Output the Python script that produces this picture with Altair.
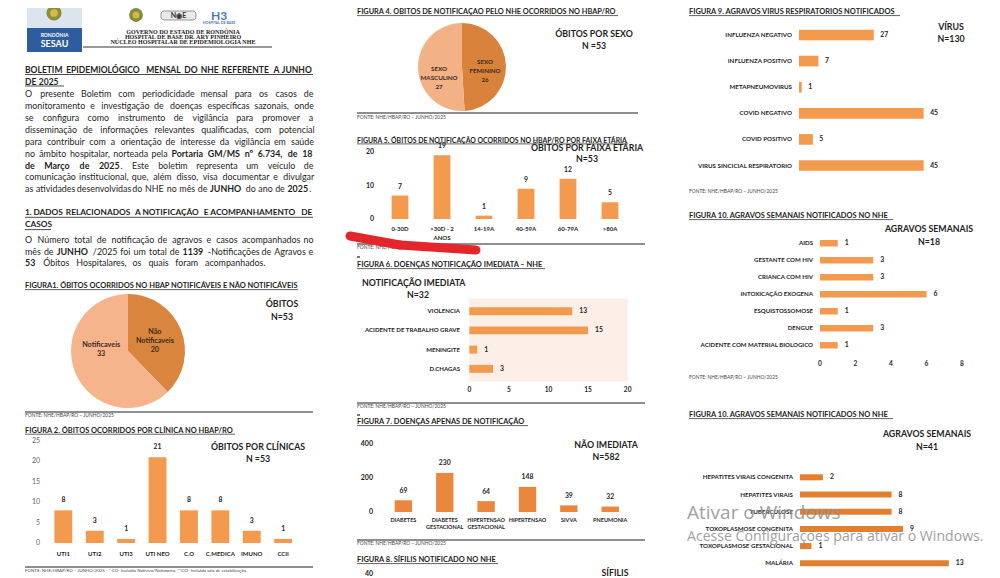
import altair as alt
import pandas as pd

# ---------------- data ----------------
fig1_cats = ["Não Notificaveis", "Notificaveis"]
fig1_labels = ["Não\nNotificaveis", "Notificaveis"]
fig1_vals = [20, 33]

fig2_cats = ["UTI1", "UTI2", "UTI3", "UTI NEO", "C.O", "C.MEDICA", "IMUNO", "CCII"]
fig2_vals = [8, 3, 1, 21, 8, 8, 3, 1]
fig2_ticks = [0, 5, 10, 15, 20, 25]

fig4_cats = ["SEXO FEMININO", "SEXO MASCULINO"]
fig4_labels = ["SEXO\nFEMININO", "SEXO\nMASCULINO"]
fig4_vals = [26, 27]

fig5_cats = ["0-30D", ">30D - 2\nANOS", "14-19A", "40-59A", "60-79A", ">80A"]
fig5_vals = [7, 19, 1, 9, 12, 5]
fig5_ticks = [0, 10, 20]

fig6_cats = ["VIOLENCIA", "ACIDENTE DE TRABALHO GRAVE", "MENINGITE", "D.CHAGAS"]
fig6_vals = [13, 15, 1, 3]
fig6_ticks = [0, 5, 10, 15, 20]

fig7_cats = ["DIABETES", "DIABETES\nGESTACIONAL", "HIPERTENSAO\nGESTACIONAL", "HIPERTENSAO", "SIVVA", "PNEUMONIA"]
fig7_vals = [69, 230, 64, 148, 39, 32]
fig7_ticks = [0, 200, 400]

fig9_cats = ["INFLUENZA NEGATIVO", "INFLUENZA POSITIVO", "METAPNEUMOVIRUS", "COVID NEGATIVO",
             "COVID POSITIVO", "VIRUS SINCICIAL RESPIRATORIO"]
fig9_vals = [27, 7, 1, 45, 5, 45]

fig10a_cats = ["AIDS", "GESTANTE COM HIV", "CRIANCA COM HIV", "INTOXICAÇÃO EXOGENA", "ESQUISTOSSOMOSE",
               "DENGUE", "ACIDENTE COM MATERIAL BIOLOGICO"]
fig10a_vals = [1, 3, 3, 6, 1, 3, 1]
fig10a_ticks = [0, 2, 4, 6, 8]

fig10b_cats = ["HEPATITES VIRAIS CONGENITA", "HEPATITES VIRAIS", "TUBERCULOSE", "TOXOPLASMOSE CONGENITA",
               "TOXOPLASMOSE GESTACIONAL", "MALÁRIA"]
fig10b_vals = [2, 8, 8, 9, 1, 13]

# body text ( *...* = bold )
para1 = ["O presente Boletim com periodicidade mensal para os casos de",
         "monitoramento e investigação de doenças específicas sazonais, onde",
         "se configura como instrumento de vigilância para promover a",
         "disseminação de informações relevantes qualificadas, com potencial",
         "para contribuir com a orientação de interesse da vigilância em saúde",
         "no âmbito hospitalar, norteada pela *Portaria GM/MS nº 6.734, de 18*",
         "*de Março de 2025*. Este boletim representa um veículo de",
         "comunicação institucional, que, além disso, visa documentar e divulgar",
         "as atividades desenvolvidas do NHE no mês de *JUNHO*  do ano de *2025*."]
para2 = ["O Número total de notificação de agravos e casos acompanhados no",
         "mês de *JUNHO* /2025 foi um total de *1139*  -Notificações de Agravos e",
         "*53* Óbitos Hospitalares, os quais foram acompanhados."]

# ---------------- helpers ----------------
W, H = 984, 570
FONT = "Lato"
INK = "#1e1e1e"
ORANGE = "#f39a4f"
BODY = 8.9


def px(v):
    return v - 8


one = pd.DataFrame({"k": [0]})

CW = {" ": .193, ",": .21, ".": .21, "/": .353, "-": .375, "–": .5, ":": .21, "º": .35, "(": .3, ")": .3}
for ch, w in zip("abcdefghijklmnopqrstuvwxyz",
                 [.473, .54, .446, .54, .5, .328, .484, .537, .228, .228, .495, .228, .807, .537, .538, .529,
                  .539, .365, .416, .35, .537, .492, .74, .48, .492, .434]):
    CW[ch] = w
for ch, w in zip("ABCDEFGHIJKLMNOPQRSTUVWXYZ",
                 [.68, .639, .694, .764, .58, .561, .739, .764, .288, .418, .66, .52, .924, .764, .814, .6,
                  .814, .643, .529, .584, .732, .68, 1.028, .645, .623, .606]):
    CW[ch] = w
for ch in "0123456789":
    CW[ch] = .58
ACC = {"á": "a", "â": "a", "ã": "a", "à": "a", "é": "e", "ê": "e", "í": "i", "ó": "o", "ô": "o", "õ": "o",
       "ú": "u", "ç": "c", "Á": "A", "Â": "A", "Ã": "A", "É": "E", "Ê": "E", "Í": "I", "Ó": "O", "Ô": "O",
       "Õ": "O", "Ú": "U", "Ç": "C"}


def est(s, size, bold):
    w = sum(CW.get(ACC.get(c, c), .55) for c in s)
    return w * size * (1.05 if bold else 1.0)


def T(text, x, y, size=10, bold=False, align="left", color=INK, font=FONT, baseline="middle", opacity=1.0,
      lh=None):
    kw = dict(align=align, baseline=baseline, fontSize=size, font=font, color=color,
              fontWeight="bold" if bold else "normal", opacity=opacity)
    if "\n" in text:
        kw["lineBreak"] = "\n"
        if lh:
            kw["lineHeight"] = lh
    return alt.Chart(pd.DataFrame({"t": [text]})).mark_text(**kw).encode(
        x=alt.value(px(x)), y=alt.value(px(y)), text="t:N")


def parse(line):
    words, cur, buf, bold = [], [], "", False
    for ch in line:
        if ch == "*":
            if buf:
                cur.append((buf, bold))
                buf = ""
            bold = not bold
        elif ch == " ":
            if buf:
                cur.append((buf, bold))
                buf = ""
            if cur:
                words.append(cur)
                cur = []
        else:
            buf += ch
    if buf:
        cur.append((buf, bold))
    if cur:
        words.append(cur)
    return words


def LINE(line, y, size=BODY, x0=25, x1=313, justify=True):
    words = parse(line)
    ws = [sum(est(t, size, b) for t, b in wd) for wd in words]
    n = len(words)
    if justify and n > 1:
        gap = (x1 - x0 - sum(ws)) / (n - 1)
    else:
        gap = CW[" "] * size * 1.1
    out = []
    x = x0
    for i, (wd, w) in enumerate(zip(words, ws)):
        if justify and n > 1 and i == n - 1:
            x = x1 - w
        xx = x
        for t, b in wd:
            out.append(T(t, xx, y, size, b))
            xx += est(t, size, b)
        x += w + gap
    return out


def R(x1, x2, y, w=0.8, color=INK):
    return alt.Chart(one).mark_rule(color=color, strokeWidth=w).encode(
        x=alt.value(px(x1)), x2=alt.value(px(x2)), y=alt.value(px(y)))


def SEG(x1, y1, x2, y2, w, color):
    return alt.Chart(one).mark_rule(color=color, strokeWidth=w, strokeCap="round").encode(
        x=alt.value(px(x1)), x2=alt.value(px(x2)), y=alt.value(px(y1)), y2=alt.value(px(y2)))


def B(x1, x2, y1, y2, color, **kw):
    return alt.Chart(one).mark_rect(color=color, **kw).encode(
        x=alt.value(px(x1)), x2=alt.value(px(x2)), y=alt.value(px(y1)), y2=alt.value(px(y2)))


def DOT(x, y, size, color):
    return alt.Chart(one).mark_circle(color=color, opacity=1).encode(
        x=alt.value(px(x)), y=alt.value(px(y)), size=alt.value(size))


def vbars(cats, vals, ticks, x_range, pi, po, y_domain, y_range, tick_right, base_y, color,
          cat_size=6, cat_top=None, cat_lh=7, tick_size=7, tick_bold=False, tick_color="#555555",
          val_dy=-8, val_size=6.8):
    df = pd.DataFrame({"c": cats, "v": vals})
    xsc = alt.Scale(range=[px(x_range[0]), px(x_range[1])], paddingInner=pi, paddingOuter=po)
    ysc = alt.Scale(domain=y_domain, range=[px(y_range[0]), px(y_range[1])], nice=False)
    X = alt.X("c:N", sort=cats, scale=xsc, axis=None, title=None)
    Y = alt.Y("v:Q", scale=ysc, axis=None, title=None)
    bars = alt.Chart(df).mark_bar(color=color).encode(x=X, y=Y)
    vt = alt.Chart(df).mark_text(baseline="alphabetic", dy=val_dy, font=FONT, fontSize=val_size,
                                 fontWeight="bold", color=INK).encode(x=X, y=Y, text="v:Q")
    ct = alt.Chart(df).mark_text(baseline="top", align="center", lineBreak="\n", lineHeight=cat_lh, font=FONT,
                                 fontSize=cat_size, fontWeight="bold", color=INK).encode(
        x=X, y=alt.value(px(cat_top)), text="c:N")
    tt = alt.Chart(pd.DataFrame({"t": ticks})).mark_text(
        align="right", baseline="middle", font=FONT, fontSize=tick_size,
        fontWeight="bold" if tick_bold else "normal", color=tick_color).encode(
        x=alt.value(px(tick_right)), y=alt.Y("t:Q", scale=ysc, axis=None), text="t:Q")
    return alt.layer(bars, vt, ct, tt)


def hbars(cats, vals, x_domain, x_range, y_range, pi, po, lab_right, color, lab_size=6.1,
          val_dx=7, val_size=6.8, ticks=None, tick_top=None, bg=None):
    df = pd.DataFrame({"c": cats, "v": vals})
    xsc = alt.Scale(domain=x_domain, range=[px(x_range[0]), px(x_range[1])], nice=False)
    ysc = alt.Scale(range=[px(y_range[0]), px(y_range[1])], paddingInner=pi, paddingOuter=po)
    X = alt.X("v:Q", scale=xsc, axis=None, title=None)
    Y = alt.Y("c:N", sort=cats, scale=ysc, axis=None, title=None)
    layers = []
    if bg is not None:
        layers.append(alt.Chart(one).mark_rect(color=bg).encode(
            x=alt.X(datum=x_domain[0], type="quantitative", scale=xsc, axis=None),
            x2=alt.X2(datum=x_domain[1]),
            y=alt.value(px(y_range[0])), y2=alt.value(px(y_range[1]))))
    layers.append(alt.Chart(df).mark_bar(color=color).encode(x=X, y=Y))
    layers.append(alt.Chart(df).mark_text(align="left", baseline="middle", dx=val_dx, font=FONT,
                                          fontSize=val_size, fontWeight="bold", color=INK).encode(
        x=X, y=Y, text="v:Q"))
    layers.append(alt.Chart(df).mark_text(align="right", baseline="middle", font=FONT, fontSize=lab_size,
                                          fontWeight="bold", color=INK).encode(
        x=alt.value(px(lab_right)), y=Y, text="c:N"))
    if ticks is not None:
        layers.append(alt.Chart(pd.DataFrame({"t": ticks})).mark_text(
            align="center", baseline="top", font=FONT, fontSize=6.6, fontWeight="bold", color=INK).encode(
            x=alt.X("t:Q", scale=xsc, axis=None), y=alt.value(px(tick_top)), text="t:Q"))
    return alt.layer(*layers)


def pie(cats, labels, vals, cx, cy, r, colors, label_r, dys, size=7.2, lh=9):
    df = pd.DataFrame({"c": cats, "v": vals, "i": list(range(len(cats))),
                       "l": [f"{a}\n{b}" for a, b in zip(labels, vals)]})
    base = alt.Chart(df).encode(theta=alt.Theta("v:Q", stack=True), order=alt.Order("i:Q"),
                                x=alt.value(px(cx)), y=alt.value(px(cy)))
    arc = base.mark_arc(outerRadius=r).encode(
        color=alt.Color("c:N", scale=alt.Scale(domain=cats, range=colors), legend=None))
    layers = [arc]
    for cat, dy in zip(cats, dys):
        layers.append(base.mark_text(radius=label_r, dy=dy, lineBreak="\n", lineHeight=lh, font=FONT,
                                     fontSize=size, fontWeight="bold", color="#3a2a1e", align="center",
                                     baseline="middle")
                      .encode(text=alt.condition(alt.datum.c == cat, "l:N", alt.value(""))))
    return alt.layer(*layers)


def NBOX(a, b, x, y, size=8.8, gap=12):
    return [T(a, x, y, size, True, "center"), T(b, x, y + gap, size, True, "center")]


def FONTE(x, y):
    return T("FONTE: NHE/HBAP/RO – JUNHO/2025", x, y, 4.9, False, "left", "#444444")


L = []

# ---------------- header / column 1 text ----------------
L += [B(27, 82, 0, 28, "#dce4ee"), B(27, 82, 28, 52, "#2e5c9e"),
      DOT(54, 13, 230, "#8b8f3c"), DOT(54, 13, 60, "#d9b84a"),
      T("RONDÔNIA", 54.5, 35, 5, True, "center", "white"),
      T("SESAU", 54.5, 44, 9, True, "center", "white"),
      DOT(136, 15, 190, "#7f8c3a"), DOT(136, 15, 50, "#d8b544"),
      B(161, 196, 11, 20, "#e9e9e9", stroke="#555555", strokeWidth=0.6, cornerRadius=3),
      T("N◉E", 178.5, 15.8, 7, True, "center", "#333333"),
      T("H3", 219, 16, 12, True, "center", "#4a78b5"),
      T("HOSPITAL DE BASE", 219, 23, 3.6, True, "center", "#4a78b5"),
      T("GOVERNO DO ESTADO DE RONDÔNIA", 183, 32, 6.1, True, "center", "#222", "Liberation Serif"),
      T("HOSPITAL DE BASE DR. ARY PINHEIRO", 183, 36.8, 6.1, True, "center", "#222", "Liberation Serif"),
      T("NÚCLEO HOSPITALAR DE EPIDEMIOLOGIA NHE", 183, 41.6, 6.1, True, "center", "#222", "Liberation Serif"),
      R(83, 272, 47, 0.9)]

L += LINE("*BOLETIM EPIDEMIOLÓGICO MENSAL DO NHE REFERENTE A  JUNHO*", 70, 8.5)
L += LINE("*DE 2025*", 81.5, 8.5, justify=False)
L += [R(25, 313, 74.5, 0.8), R(25, 64, 86, 0.8)]

y0, dl = 94.3, 11.88
for i, s in enumerate(para1):
    last = i == len(para1) - 1
    L += LINE(s, y0 + i * dl, BODY, x1=(311 if last else 313))

L += LINE("*1. DADOS RELACIONADOS A NOTIFICAÇÃO E ACOMPANHAMENTO DE*", 213, 8.3)
L += LINE("*CASOS*", 225.3, 8.3, justify=False)
L += [R(25, 313, 217.3, 0.8), R(25, 51, 229.6, 0.8)]
for i, s in enumerate(para2):
    last = i == len(para2) - 1
    L += LINE(s, 240 + i * 11.5, BODY, x1=(263 if last else 313))

# ---------------- Figure 1 ----------------
L += [T("FIGURA1. ÓBITOS OCORRIDOS NO HBAP NOTIFICÁVEIS E  NÃO NOTIFICÁVEIS", 25, 286, 7.45, True),
      R(25, 298, 289.6, 0.7),
      pie(fig1_cats, fig1_labels, fig1_vals, 128, 351, 57, ["#d9853e", "#f5b48b"], 29, [-8, -17]),
      R(25, 313, 412, 1.1), FONTE(25, 415.5)]
L += NBOX("ÓBITOS", "N=53", 282, 304, gap=13)

# ---------------- Figure 2 ----------------
L += [T("FIGURA 2.  ÓBITOS OCORRIDOS POR CLÍNICA NO HBAP/RO", 25, 430.5, 7.45, True),
      R(25, 235, 434.2, 0.7),
      vbars(fig2_cats, fig2_vals, fig2_ticks, [47.5, 299], 0.43, 0.22, [0, 25], [543, 441], 40, 543, ORANGE,
            cat_size=6, cat_top=551, tick_size=7, tick_color="#666666", val_dy=-8),
      R(25, 313, 567, 1.1),
      T("FONTE: NHE/HBAP/RO – JUNHO/2025  - * CO-  Incluido Nativivo/Natimorto. **CCI-  Incluido sala de estabilização.",
        25, 570.5, 4.4, False, "left", "#444444")]
L += NBOX("ÓBITOS POR CLÍNICAS", "N =53", 258, 447)

# ---------------- Figure 4 ----------------
L += [T("FIGURA 4. ÓBITOS DE NOTIFICAÇÃO PELO NHE OCORRIDOS NO HBAP/RO", 357, 12, 7.35, True),
      R(357, 618, 15.6, 0.7),
      pie(fig4_cats, fig4_labels, fig4_vals, 462, 67, 44, ["#d8823c", "#f3b286"], 23, [-4, 1], size=6.2,
          lh=9),
      R(357, 638, 113, 1.1), FONTE(357, 117.5)]
L += NBOX("ÓBITOS POR SEXO", "N =53", 594, 34)

# ---------------- Figure 5 ----------------
L += [T("FIGURA 5. ÓBITOS DE NOTIFICAÇÃO OCORRIDOS NO HBAP/RO POR FAIXA ETÁRIA", 357, 140.5, 6.9, True),
      R(357, 628, 143.9, 0.7),
      vbars(fig5_cats, fig5_vals, fig5_ticks, [379, 631], 0.6, 0.3, [0, 20], [219, 152], 374, 219, ORANGE,
            cat_size=6, cat_top=226, cat_lh=9, tick_size=7, tick_bold=True, tick_color=INK, val_dy=-7),
      R(357, 645, 244, 1.1), FONTE(357, 248),
      SEG(350, 236, 400, 245, 9, "#e3262a"), SEG(400, 245, 476, 250, 9, "#e3262a")]
L += NBOX("ÓBITOS POR FAIXA ETÁRIA", "N=53", 587, 148, gap=11)

# ---------------- Figure 6 ----------------
L += [R(357, 360, 257, 1.2),
      T("FIGURA 6. DOENÇAS NOTIFICAÇÃO IMEDIATA – NHE", 357, 265, 7.45, True), R(357, 545, 268.6, 0.7),
      T("NOTIFICAÇÃO IMEDIATA", 362, 283, 8.8, True), T("N=32", 418, 294.5, 8.8, True, "center"),
      hbars(fig6_cats, fig6_vals, [0, 20], [469.3, 627.7], [298.5, 381.5], 0.585, 0.45, 460, ORANGE,
            lab_size=6.1, val_dx=7, ticks=fig6_ticks, tick_top=386.5, bg="#fcefe7"),
      R(357, 645, 403, 1.1), FONTE(357, 406.5)]

# ---------------- Figure 7 ----------------
L += [R(357, 360, 415, 1.2),
      T("FIGURA 7.  DOENÇAS APENAS DE  NOTIFICAÇÃO", 357, 422, 7.45, True), R(357, 528, 425.6, 0.7),
      vbars(fig7_cats, fig7_vals, fig7_ticks, [382.3, 631.3], 0.58, 0.3, [0, 400], [512, 444], 373, 512,
            "#e9873f", cat_size=5.5, cat_top=517.5, cat_lh=7.3, tick_size=7, tick_bold=True, tick_color=INK,
            val_dy=-7.5),
      R(357, 645, 540, 1.1), FONTE(357, 544)]
L += NBOX("NÃO IMEDIATA", "N=582", 606, 445)

# ---------------- Figure 8 (cut) ----------------
L += [T("FIGURA 8.  SÍFILIS NOTIFICADO NO NHE", 357, 560, 7.45, True), R(357, 498, 563.6, 0.7),
      T("40", 373, 574, 7, True, "right"), T("SÍFILIS", 615, 572.5, 8.8, True, "center")]

# ---------------- Figure 9 ----------------
L += [T("FIGURA 9.  AGRAVOS VÍRUS RESPIRATÓRIOS NOTIFICADOS", 689, 12, 7.45, True), R(689, 900, 15.6, 0.7),
      hbars(fig9_cats, fig9_vals, [0, 50], [799, 937.5], [19.2, 181.3], 0.59, 0.4, 792, ORANGE,
            lab_size=6.2, val_dx=6.5),
      FONTE(689, 192)]
L += NBOX("VÍRUS", "N=130", 951, 27)

# ---------------- Figure 10 (a) ----------------
L += [T("FIGURA 10.  AGRAVOS SEMANAIS NOTIFICADOS NO NHE", 689, 216, 7.45, True), R(689, 893, 219.6, 0.7),
      hbars(fig10a_cats, fig10a_vals, [0, 8], [820, 962], [231.5, 357], 0.62, 0.5, 813, ORANGE,
            lab_size=6.1, val_dx=7, ticks=fig10a_ticks, tick_top=361.3),
      FONTE(689, 378)]
L += NBOX("AGRAVOS SEMANAIS", "N=18", 929, 229, gap=13)

# ---------------- Figure 10 (b) ----------------
L += [T("FIGURA 10.  AGRAVOS SEMANAIS NOTIFICADOS NO NHE", 689, 415, 7.45, True), R(689, 893, 418.6, 0.7),
      hbars(fig10b_cats, fig10b_vals, [0, 14], [800, 960.3], [465.7, 574.9], 0.65, 0.5, 793, "#e2802f",
            lab_size=6.2, val_dx=7)]
L += NBOX("AGRAVOS SEMANAIS", "N=41", 927, 434, gap=13)

# ---------------- watermark ----------------
L += [T("Ativar o Windows", 687, 513, 19, False, "left", "#8f8f8f", "Open Sans", opacity=0.85),
      T("Acesse Configurações para ativar o Windows.", 687, 537, 14.1, False, "left", "#8f8f8f", "Open Sans",
        opacity=0.85)]

chart = alt.layer(*L).resolve_scale(
    x="independent", y="independent", theta="independent", color="independent"
).properties(
    width=W, height=H, autosize=alt.AutoSizeParams(type="none"), padding=0, background="white"
).configure_view(stroke=None)

chart.save("out.html", embed_options={"renderer": "svg", "actions": False})
